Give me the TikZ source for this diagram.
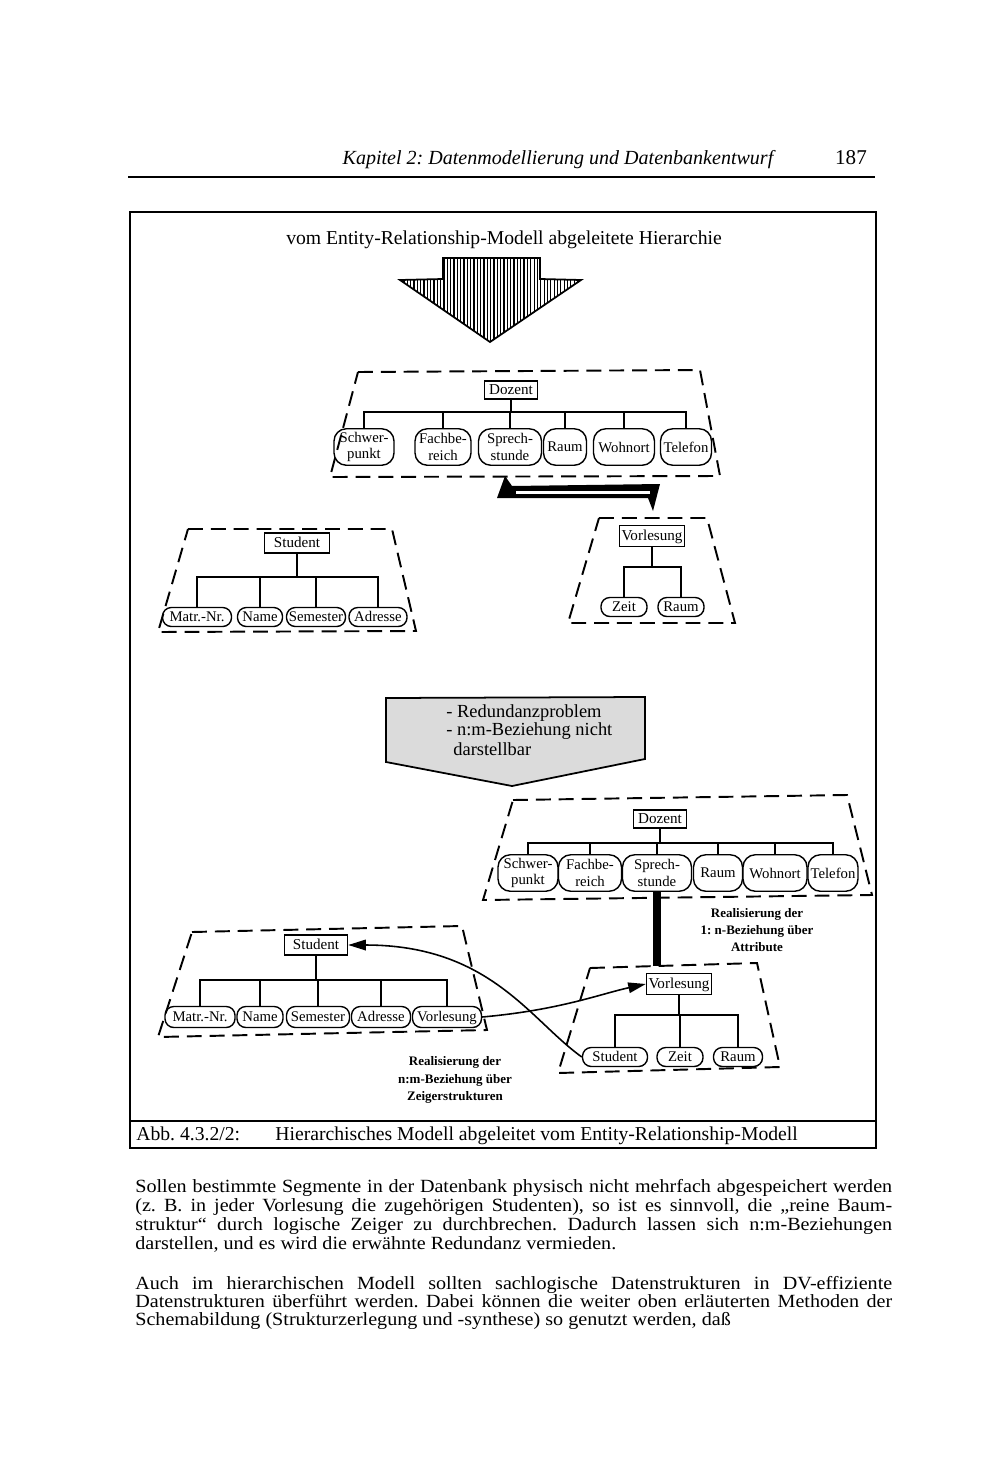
\documentclass[tikz,border=0pt]{standalone}
\usepackage{fontspec}
\setmainfont{Liberation Serif}
\newfontfamily\bodyfont{Liberation Serif}[FakeStretch=1.08]
\usetikzlibrary{arrows.meta,patterns.meta}
\begin{document}
\frenchspacing
\begin{tikzpicture}[x=0.02cm,y=-0.02cm,
  ent/.style={draw,line width=0.8pt,inner sep=0.5pt,minimum height=0.38cm,text height=1.55ex,text depth=0.45ex,font=\fontsize{8.6}{9}\selectfont},
  att/.style={draw,line width=0.8pt,rounded corners=5pt,inner sep=0.5pt,minimum height=0.38cm,text height=1.55ex,text depth=0.45ex,font=\fontsize{8.4}{9}\selectfont},
  att2/.style={draw,line width=0.8pt,rounded corners=7pt,inner sep=0pt,minimum height=0.73cm,align=center,font=\fontsize{8.4}{9.4}\selectfont},
  tree/.style={line width=1.6pt},
  trap/.style={line width=1.1pt,dash pattern=on 8.5pt off 4.5pt},
  ptr/.style={line width=0.9pt,-{Triangle[length=10pt,width=6pt]}},
  lbl/.style={align=center,font=\fontsize{7.4}{9.8}\selectfont\bfseries,inner sep=0pt},
  body/.style={anchor=base west,inner sep=0pt,font=\bodyfont\fontsize{10.6}{13}\selectfont}
]
\useasboundingbox (0,0) rectangle (1000,1473);

% header
\node[font=\fontsize{11.4}{14}\selectfont\itshape] (hdr) at (558,160) {Kapitel 2: Datenmodellierung und Datenbankentwurf};
\node[font=\fontsize{12}{14}\selectfont] (pg) at (851,158) {187};
\draw[line width=1.2pt] (128,177) -- (875,177);

% frame
\draw[line width=1pt] (130,212) rectangle (876,1148);
\draw[line width=1pt] (130,1121) -- (876,1121);

\node[font=\fontsize{11.2}{13}\selectfont] (ttl) at (504,240) {vom Entity-Relationship-Modell abgeleitete Hierarchie};

% big hatched arrow
\draw[line width=1pt,pattern={Lines[angle=90,distance=1.9pt,line width=0.7pt]}]
  (443,258) -- (540,258) -- (540,279) -- (581,280) -- (490,342) -- (400,280) -- (443,279) -- cycle;

% ---------- top Dozent tree
\draw[trap] (358,372) -- (700,370) -- (720,476) -- (330,477) -- cycle;
\node[ent,minimum width=1.06cm,minimum height=0.34cm] (dz1) at (511,390) {Dozent};
\node[att2,minimum width=1.2cm] (a1) at (364,447) {Schwer-\\punkt};
\node[att2,minimum width=1.12cm] (a2) at (443,447) {Fachbe-\\reich};
\node[att2,minimum width=1.26cm] (a3) at (510,447) {Sprech-\\stunde};
\node[att2,minimum width=0.86cm] (a4) at (565,447) {Raum};
\node[att2,minimum width=1.22cm] (a5) at (624,447) {Wohnort};
\node[att2,minimum width=1.02cm] (a6) at (686,447) {Telefon};
\coordinate (bar1) at (511,412);
\foreach \n in {a1,a2,a3,a4,a5,a6} \draw[tree] (dz1.south) -- (bar1) -| (\n.north);

% double arrow
\fill (505,476) -- (497,498) -- (648,498) -- (653,511) -- (660,484) -- (512,486) -- cycle;
\fill[white] (516,490.5) rectangle (650,494);

% ---------- top Student tree
\draw[trap] (188,529) -- (392,529) -- (416,631) -- (158,632) -- cycle;
\node[ent,minimum width=1.3cm,minimum height=0.4cm] (st1) at (297,543) {Student};
\node[att,minimum width=1.38cm] (m1) at (197,617) {Matr.-Nr.};
\node[att,minimum width=0.9cm] (n1) at (260,617) {Name};
\node[att,minimum width=1.18cm] (s1) at (316,617) {Semester};
\node[att,minimum width=1.16cm] (ad1) at (378,617) {Adresse};
\coordinate (bar2) at (297,577);
\foreach \n in {m1,n1,s1,ad1} \draw[tree] (st1.south) -- (bar2) -| (\n.north);

% ---------- top Vorlesung tree
\draw[trap] (599,518) -- (707,518) -- (735,623) -- (568,623) -- cycle;
\node[ent,minimum width=1.3cm,minimum height=0.42cm] (vl1) at (652,536) {Vorlesung};
\node[att,minimum width=0.92cm] (z1) at (624,607) {Zeit};
\node[att,minimum width=0.92cm] (r1) at (681,607) {Raum};
\coordinate (bar3) at (652,567);
\foreach \n in {z1,r1} \draw[tree] (vl1.south) -- (bar3) -| (\n.north);

% ---------- middle problem box
\draw[line width=1pt,fill=black!14] (386,698) -- (645,697) -- (645,759) -- (512,786) -- (386,762) -- cycle;
\node[anchor=west,inner sep=0pt,font=\fontsize{10.5}{12}\selectfont] (p1) at (446,713) {- Redundanzproblem};
\node[anchor=west,inner sep=0pt,font=\fontsize{10.5}{12}\selectfont] (p2) at (446,731) {- n:m-Beziehung nicht};
\node[anchor=west,inner sep=0pt,font=\fontsize{10.5}{12}\selectfont] (p3) at (453,749) {darstellbar};

% ---------- lower Dozent tree
\draw[trap] (513,800) -- (847,795) -- (872,895) -- (483,900) -- cycle;
\node[ent,minimum width=1.06cm,minimum height=0.34cm] (dz2) at (660,819) {Dozent};
\node[att2,minimum width=1.2cm] (b1) at (528,873) {Schwer-\\punkt};
\node[att2,minimum width=1.26cm] (b2) at (590,873) {Fachbe-\\reich};
\node[att2,minimum width=1.38cm] (b3) at (657,873) {Sprech-\\stunde};
\node[att2,minimum width=0.98cm] (b4) at (718,873) {Raum};
\node[att2,minimum width=1.28cm] (b5) at (775,873) {Wohnort};
\node[att2,minimum width=1.0cm] (b6) at (833,873) {Telefon};
\coordinate (bar4) at (660,843);
\foreach \n in {b1,b2,b3,b4,b5,b6} \draw[tree] (dz2.south) -- (bar4) -| (\n.north);

% thick 1:n link
\coordinate (lnk) at (657,966);
\draw[line width=4pt] (b3.south) -- (lnk);
\node[lbl] (l1) at (757,930) {Realisierung der\\1: n-Beziehung über\\Attribute};

% ---------- lower Student tree
\draw[trap] (192,932) -- (462,926) -- (487,1030) -- (158,1037) -- cycle;
\node[ent,minimum width=1.26cm,minimum height=0.4cm] (st2) at (316,945) {Student};
\node[att,minimum width=1.4cm,minimum height=0.42cm] (m2) at (200,1017) {Matr.-Nr.};
\node[att,minimum width=0.92cm,minimum height=0.42cm] (n2) at (260,1017) {Name};
\node[att,minimum width=1.26cm,minimum height=0.42cm] (s2) at (318,1017) {Semester};
\node[att,minimum width=1.18cm,minimum height=0.42cm] (ad2) at (381,1017) {Adresse};
\node[att,minimum width=1.38cm,minimum height=0.42cm] (v2) at (447,1017) {Vorlesung};
\coordinate (bar5) at (316,980);
\foreach \n in {m2,n2,s2,ad2,v2} \draw[tree] (st2.south) -- (bar5) -| (\n.north);
\node[lbl] (l2) at (455,1080) {Realisierung der\\n:m-Beziehung über\\Zeigerstrukturen};

% ---------- lower Vorlesung tree
\draw[trap] (590,968) -- (757,963) -- (780,1067) -- (558,1073) -- cycle;
\node[ent,minimum width=1.3cm,minimum height=0.42cm] (vl2) at (679,984) {Vorlesung};
\node[att,minimum width=1.3cm] (st3) at (615,1057) {Student};
\node[att,minimum width=0.92cm] (z2) at (680,1057) {Zeit};
\node[att,minimum width=0.98cm] (r2) at (738,1057) {Raum};
\coordinate (bar6) at (679,1015);
\foreach \n in {st3,z2,r2} \draw[tree] (vl2.south) -- (bar6) -| (\n.north);

% pointers
\draw[ptr] (st3.west) .. controls (530,1020) and (490,945) .. (st2.east);
\draw[ptr] (v2.east) .. controls (560,1010) and (600,994) .. (vl2.west);

% caption
\node[anchor=base west,inner sep=0pt,font=\fontsize{11.2}{13}\selectfont] (cap1) at (136,1140) {Abb. 4.3.2/2:};
\node[anchor=base west,inner sep=0pt,font=\fontsize{11.2}{13}\selectfont] (cap2) at (275,1140) {Hierarchisches Modell abgeleitet vom Entity-Relationship-Modell};

% body text
\node[body] (t1) at (135,1192) {\makebox[15.14cm][s]{Sollen bestimmte Segmente in der Datenbank physisch nicht mehrfach abgespeichert werden}};
\node[body] (t2) at (135,1211) {\makebox[15.14cm][s]{(z. B. in jeder Vorlesung die zugehörigen Studenten), so ist es sinnvoll, die „reine Baum-}};
\node[body] (t3) at (135,1230) {\makebox[15.14cm][s]{struktur“ durch logische Zeiger zu durchbrechen. Dadurch lassen sich n:m-Beziehungen}};
\node[body] (t4) at (135,1249) {darstellen, und es wird die erwähnte Redundanz vermieden.};
\node[body] (t5) at (135,1289) {\makebox[15.14cm][s]{Auch im hierarchischen Modell sollten sachlogische Datenstrukturen in DV-effiziente}};
\node[body] (t6) at (135,1307) {\makebox[15.14cm][s]{Datenstrukturen überführt werden. Dabei können die weiter oben erläuterten Methoden der}};
\node[body] (t7) at (135,1325) {Schemabildung (Strukturzerlegung und -synthese) so genutzt werden, daß};
\end{tikzpicture}
\end{document}
